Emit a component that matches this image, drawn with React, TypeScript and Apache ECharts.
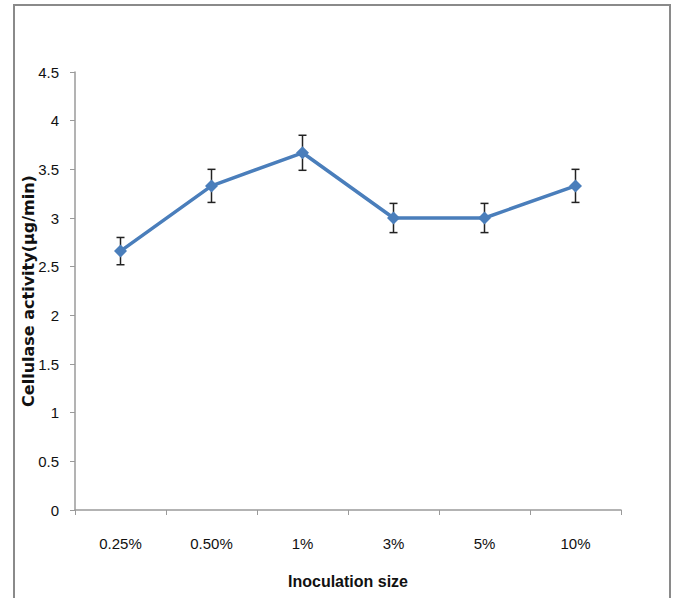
import React, { useEffect, useRef } from "react";
import * as echarts from "echarts";

const categories = ["0.25%", "0.50%", "1%", "3%", "5%", "10%"];
const activity = [2.66, 3.33, 3.67, 3.0, 3.0, 3.33];
const errors = [0.14, 0.17, 0.18, 0.15, 0.15, 0.17];
const yTicks = [0, 0.5, 1, 1.5, 2, 2.5, 3, 3.5, 4, 4.5];
const xTitle = "Inoculation size";
const yTitle = "Cellulase activity(μg/min)";

const FONT = "'Liberation Sans', Arial, sans-serif";

export default function App() {
  const ref = useRef<HTMLDivElement>(null);
  useEffect(() => {
    if (!ref.current) return;
    const chart = echarts.init(ref.current, undefined, { renderer: "svg" });
    const errData = categories.map((c, i) => [i, activity[i] - errors[i], activity[i] + errors[i]]);
    chart.setOption({
      animation: false,
      backgroundColor: "#ffffff",
      grid: { left: 75, right: 52, top: 72, bottom: 88 },
      graphic: [
        {
          type: "rect",
          shape: { x: 14, y: 5, width: 656, height: 620 },
          style: { fill: "none", stroke: "#8a8a8a", lineWidth: 2 },
          silent: true,
        },
        {
          type: "text",
          x: 28,
          y: 291,
          rotation: Math.PI / 2,
          style: {
            text: yTitle,
            fontFamily: "'DejaVu Sans', sans-serif",
            fontSize: 16,
            fontWeight: "bold",
            fill: "#111",
            align: "center",
            verticalAlign: "middle",
          },
          silent: true,
        },
      ],
      xAxis: {
        type: "category",
        data: categories,
        boundaryGap: true,
        name: xTitle,
        nameLocation: "middle",
        nameGap: 63,
        nameTextStyle: { fontFamily: FONT, fontSize: 16, fontWeight: "bold", color: "#111" },
        axisLine: { lineStyle: { color: "#9a9a9a", width: 1.5 } },
        axisTick: { show: true, length: 5, alignWithLabel: false, lineStyle: { color: "#9a9a9a" } },
        axisLabel: { fontFamily: FONT, fontSize: 15, color: "#111", margin: 26 },
        splitLine: { show: false },
      },
      yAxis: {
        type: "value",
        min: 0,
        max: 4.5,
        interval: 0.5,
        axisLine: { show: true, lineStyle: { color: "#9a9a9a", width: 1.5 } },
        axisTick: { show: true, length: 5, lineStyle: { color: "#9a9a9a" } },
        axisLabel: {
          fontFamily: FONT,
          fontSize: 15,
          color: "#111",
          margin: 16,
          formatter: (v: number) => (yTicks.includes(v) ? String(v) : ""),
        },
        splitLine: { show: false },
      },
      series: [
        {
          type: "custom",
          data: errData,
          z: 2,
          renderItem: (params: any, api: any) => {
            const x = api.value(0);
            const lo = api.coord([x, api.value(1)]);
            const hi = api.coord([x, api.value(2)]);
            const cap = 4;
            const style = { stroke: "#222", lineWidth: 1.5 };
            return {
              type: "group",
              children: [
                { type: "line", shape: { x1: lo[0], y1: lo[1], x2: hi[0], y2: hi[1] }, style },
                { type: "line", shape: { x1: lo[0] - cap, y1: lo[1], x2: lo[0] + cap, y2: lo[1] }, style },
                { type: "line", shape: { x1: hi[0] - cap, y1: hi[1], x2: hi[0] + cap, y2: hi[1] }, style },
              ],
            };
          },
        },
        {
          type: "line",
          data: activity,
          symbol: "diamond",
          symbolSize: 13,
          lineStyle: { color: "#4a7ebb", width: 3.5 },
          itemStyle: { color: "#4a7ebb" },
          z: 3,
        },
      ],
    });
    return () => chart.dispose();
  }, []);
  return (
    <div
      ref={ref}
      style={{ position: "fixed", left: 0, top: 0, width: 673, height: 598 }}
    />
  );
}
